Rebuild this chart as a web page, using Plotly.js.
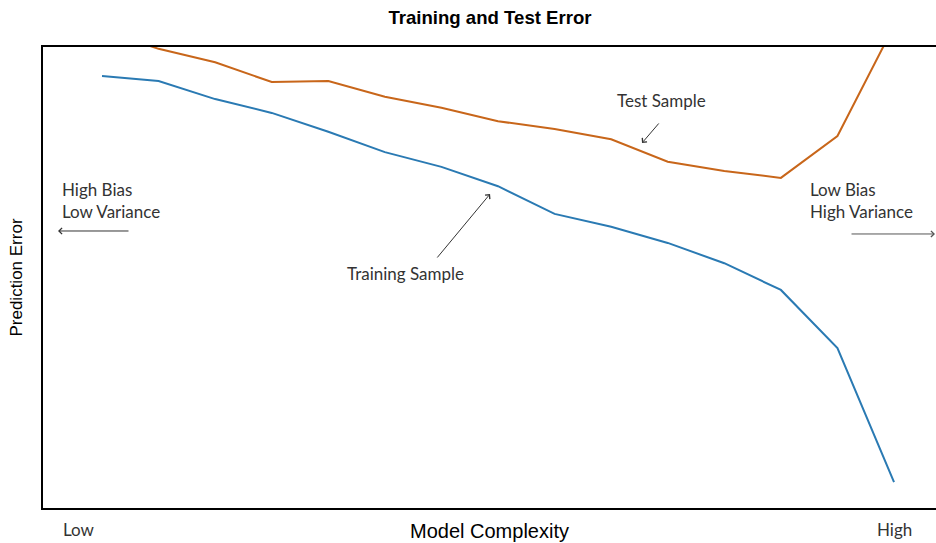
<!DOCTYPE html>
<html>
<head>
<meta charset="utf-8">
<script src="https://cdn.plot.ly/plotly-3.0.1.min.js"></script>
<style>html,body{margin:0;padding:0;background:#fff;}#chart{width:936px;height:543px;}</style>
</head>
<body>
<div id="chart"></div>
<script>
// Model complexity steps (1 = low, 15 = high)
const complexity = [1,2,3,4,5,6,7,8,9,10,11,12,13,14,15];
// Prediction error (arbitrary units, 0-100 visible)
const trainingError = [93.7,92.6,88.7,85.7,81.6,77.2,74.0,69.8,63.8,61.0,57.5,53.1,47.3,34.7,5.6];
const testError     = [103.7,99.6,96.7,92.4,92.6,89.2,86.8,83.9,82.2,80.0,75.1,73.1,71.6,80.7,104.6];

const traces = [
  {x: complexity, y: trainingError, type: 'scatter', mode: 'lines', name: 'Training Sample',
   line: {color: '#2a7ab3', width: 2}},
  {x: complexity, y: testError, type: 'scatter', mode: 'lines', name: 'Test Sample',
   line: {color: '#c8661a', width: 2}}
];

const txtFont = {family: 'Lato, "Open Sans", sans-serif', size: 17, color: '#333'};
const arrowBase = {xref: 'paper', yref: 'paper', text: '', showarrow: true, arrowhead: 4,
  arrowsize: 1.2, arrowwidth: 1, arrowcolor: '#333'};

const layout = {
  width: 936, height: 543,
  margin: {l: 43, r: 0, t: 47, b: 35},
  paper_bgcolor: '#fff', plot_bgcolor: '#fff',
  showlegend: false,
  font: {family: '"Liberation Sans", Arial, sans-serif', color: '#000'},
  title: {text: '<b>Training and Test Error</b>', x: 0.5235, xanchor: 'center', y: 0.967, yanchor: 'middle',
          font: {family: '"Liberation Sans", Arial, sans-serif', size: 18.6, color: '#000'}},
  xaxis: {range: [-0.043, 15.742], showticklabels: false, ticks: '', showgrid: false, zeroline: false,
          showline: true, mirror: true, linecolor: '#000', linewidth: 2,
          title: {text: 'Model Complexity', standoff: 15, font: {size: 20, color: '#000'}}},
  yaxis: {range: [0, 100], showticklabels: false, ticks: '', showgrid: false, zeroline: false,
          showline: true, linecolor: '#000', linewidth: 2,
          title: {text: 'Prediction Error', standoff: 14, font: {size: 17, color: '#000'}}},
  annotations: [
    Object.assign({}, arrowBase, {x: 0.5006, y: 0.6811, ax: -54, ay: 65}),
    Object.assign({}, arrowBase, {x: 0.6708, y: 0.7918, ax: 18, ay: -21}),
    Object.assign({}, arrowBase, {x: 0.0168, y: 0.6009, ax: 72, ay: 0}),
    Object.assign({}, arrowBase, {x: 0.9989, y: 0.5944, ax: -85, ay: 0, arrowcolor: '#555'}),
    {xref: 'paper', yref: 'paper', x: 0.019, y: 0.666, xanchor: 'left', yanchor: 'middle', align: 'left',
     showarrow: false, text: 'High Bias<br>Low Variance', font: txtFont},
    {xref: 'paper', yref: 'paper', x: 0.8567, y: 0.666, xanchor: 'left', yanchor: 'middle', align: 'left',
     showarrow: false, text: 'Low Bias<br>High Variance', font: txtFont},
    {xref: 'paper', yref: 'paper', x: 0.3382, y: 0.5076, xanchor: 'left', yanchor: 'middle',
     showarrow: false, text: 'Training Sample', font: txtFont},
    {xref: 'paper', yref: 'paper', x: 0.6405, y: 0.8829, xanchor: 'left', yanchor: 'middle',
     showarrow: false, text: 'Test Sample', font: txtFont},
    {xref: 'paper', yref: 'paper', x: 0.0213, y: -0.0716, xanchor: 'left', yanchor: 'bottom', borderpad: 0,
     showarrow: false, text: 'Low', font: txtFont},
    {xref: 'paper', yref: 'paper', x: 0.9328, y: -0.0716, xanchor: 'left', yanchor: 'bottom', borderpad: 0,
     showarrow: false, text: 'High', font: txtFont}
  ]
};

Plotly.newPlot('chart', traces, layout, {displayModeBar: false, staticPlot: true});
</script>
</body>
</html>
